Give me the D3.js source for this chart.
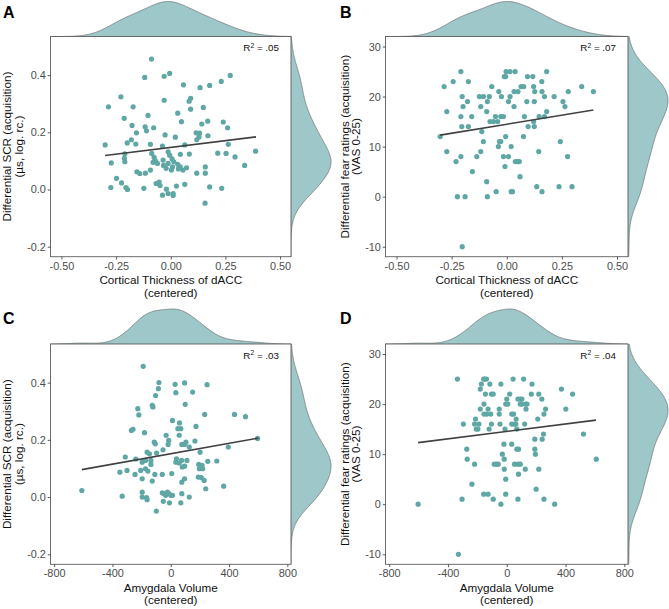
<!DOCTYPE html>
<html><head><meta charset="utf-8">
<script src="https://cdn.jsdelivr.net/npm/d3@7"></script>
<style>body{margin:0;background:#fff;}svg{display:block;font-family:"Liberation Sans",Arial,sans-serif;}</style>
</head><body>
<svg id="chart" width="669" height="609"></svg>
<script>
// ---------------- DATA ----------------
const panelLetters = ["A", "B", "C", "D"];
const xTitles = [["Cortical Thickness of dACC", "(centered)"], ["Cortical Thickness of dACC", "(centered)"], ["Amygdala Volume", "(centered)"], ["Amygdala Volume", "(centered)"]];
const yTitles = [["Differential SCR (acquisition)", "(µs, log. rc.)"], ["Differential fear ratings (acquisition)", "(VAS 0-25)"], ["Differential SCR (acquisition)", "(µs, log. rc.)"], ["Differential fear ratings (acquisition)", "(VAS 0-25)"]];
const rSquared = [".05", ".07", ".03", ".04"];

const thickTicks = [-0.5, -0.25, 0, 0.25, 0.5];
const thickTickLabels = ["-0.50", "-0.25", "0.00", "0.25", "0.50"];
const volTicks = [-800, -400, 0, 400, 800];
const volTickLabels = ["-800", "-400", "0", "400", "800"];
const scrTicks = [-0.2, 0, 0.2, 0.4];
const scrTickLabels = ["-0.2", "0.0", "0.2", "0.4"];
const fearTicks = [-10, 0, 10, 20, 30];
const fearTickLabels = ["-10", "0", "10", "20", "30"];

const thickDomain = [-0.55, 0.55];
const volDomain = [-825, 825];
const scrDomain = [-0.235, 0.535];
const fearDomain = [-12, 32];

// Panel A: cortical thickness vs SCR
const aX = [-0.088,-0.119,-0.030,-0.005,0.272,0.231,0.058,0.178,0.134,-0.228,-0.030,0.091,0.084,-0.285,-0.172,0.149,0.091,0.032,-0.104,-0.213,0.049,0.169,0.240,-0.177,-0.117,-0.078,0.260,0.142,-0.157,-0.111,-0.026,0.116,0.132,0.170,0.021,-0.180,-0.199,-0.160,-0.300,-0.093,0.263,0.388,-0.038,0.064,0.119,0.129,-0.210,-0.212,-0.210,-0.272,-0.087,-0.076,-0.070,-0.081,-0.061,-0.035,-0.012,-0.005,0.006,-0.012,-0.033,0.014,0.044,0.085,0.215,0.253,0.294,0.032,0.043,0.056,0.035,0.072,0.158,0.338,-0.021,0.003,0.008,-0.155,-0.142,-0.116,-0.093,0.119,0.158,-0.248,-0.225,-0.274,-0.205,-0.198,-0.123,-0.067,-0.053,-0.049,-0.038,-0.020,-0.012,0.011,0.011,0.026,0.064,0.178,0.233,0.157];
const aY = [0.456,0.392,0.396,0.406,0.399,0.378,0.366,0.364,0.356,0.324,0.312,0.319,0.309,0.289,0.289,0.287,0.281,0.267,0.259,0.249,0.237,0.239,0.236,0.224,0.219,0.216,0.216,0.229,0.198,0.205,0.191,0.198,0.197,0.188,0.183,0.174,0.163,0.159,0.156,0.158,0.158,0.134,0.152,0.156,0.174,0.184,0.125,0.109,0.097,0.093,0.126,0.112,0.100,0.095,0.091,0.103,0.132,0.120,0.107,0.091,0.084,0.097,0.123,0.124,0.127,0.126,0.114,0.088,0.079,0.068,0.072,0.076,0.079,0.084,0.074,0.068,0.079,0.062,0.056,0.057,0.068,0.057,0.057,0.039,0.023,0.007,0.007,0.000,0.004,0.021,0.026,0.014,-0.020,0.001,-0.014,-0.014,-0.021,0.012,0.018,0.009,0.004,-0.048];
const aFitX = [-0.30, 0.39];
const aFitY = [0.119, 0.184];

// Panel B: cortical thickness vs fear ratings
const bX = [-0.208,-0.243,-0.174,-0.284,-0.272,-0.202,-0.178,-0.198,-0.208,-0.174,-0.204,-0.159,-0.230,-0.208,-0.272,-0.224,-0.189,-0.202,-0.302,-0.156,-0.136,-0.118,-0.106,-0.113,-0.124,-0.106,-0.118,-0.079,-0.088,-0.091,-0.068,-0.076,-0.060,-0.041,-0.051,-0.027,-0.015,-0.091,-0.088,-0.048,-0.038,-0.033,-0.027,-0.036,-0.024,-0.011,-0.005,-0.003,0.015,0.038,0.008,0.015,0.033,-0.005,0.020,-0.015,-0.008,0.008,0.033,0.020,0.026,0.039,0.050,0.057,0.051,0.065,0.077,0.076,0.060,0.080,0.091,0.097,0.094,0.118,0.122,0.127,0.122,0.125,0.125,0.136,0.145,0.147,0.159,0.160,0.171,0.160,0.171,0.181,0.181,0.215,0.237,0.243,0.255,0.264,0.276,0.279,0.296,0.340,0.393];
const bY = [25,23,23,22,17,20,19,18,16,14,14,16,7,8,9,0,0,-10,12,5,8,9,11,13,20,20,18,20,19,17,22,15,15,15,16,16,16,3,0,1,10,11,11,21,20,24,24,25,25,25,19,20,21,12,10,8,6,8,18,1,1,7,7,7,21,22,22,12,4,16,19,14,24,24,22,21,15,14,19,2,9,16,23,21,20,1,16,17,25,20,2,11,19,18,8,21,2,22,21];
const bFitX = [-0.302, 0.393];
const bFitY = [12.3, 17.3];

// Panel C: amygdala volume vs SCR
const cX = [-189,-81,-85,-104,-127,-122,30,95,35,150,249,99,-226,-219,-270,-259,-180,12,60,49,69,58,-32,173,233,437,513,596,395,-14,-113,-106,-18,76,95,104,127,166,201,-312,-162,-146,-53,-97,-196,-173,-136,-136,-240,-300,-349,-245,-206,-173,-157,-109,-58,7,-127,-196,39,35,58,74,111,79,95,192,215,254,316,95,76,196,219,189,210,229,363,240,-196,-196,-166,-162,-333,-610,-99,-58,-46,-35,-23,-12,0,12,-51,-9,69,76,127];
const cY = [0.457,0.400,0.379,0.355,0.321,0.315,0.394,0.399,0.365,0.367,0.393,0.324,0.309,0.287,0.233,0.237,0.225,0.268,0.259,0.239,0.239,0.216,0.216,0.247,0.289,0.289,0.281,0.205,0.175,0.198,0.192,0.186,0.184,0.184,0.184,0.192,0.175,0.196,0.157,0.140,0.157,0.151,0.165,0.154,0.122,0.128,0.128,0.114,0.133,0.093,0.087,0.079,0.093,0.099,0.091,0.079,0.079,0.082,0.056,0.064,0.134,0.122,0.119,0.128,0.128,0.105,0.108,0.114,0.111,0.125,0.126,0.064,0.052,0.099,0.099,0.070,0.068,0.058,0.038,0.029,0.017,0.000,-0.002,-0.009,0.003,0.023,-0.049,0.015,0.012,0.006,0.017,0.012,0.006,0.006,-0.015,-0.020,-0.020,0.012,0.000];
const cFitX = [-610, 601];
const cFitY = [0.096, 0.206];

// Panel D: amygdala volume vs fear ratings
const dX = [-336,-329,-603,-304,-295,-272,-269,-237,-219,-219,-212,-207,-189,-196,-180,-173,-180,-157,-150,-138,-155,-145,-155,-157,-127,-136,-127,-115,-104,-92,-109,-120,-104,-92,-69,-58,-85,-51,-51,-46,-40,-40,-30,-19,-17,-17,-12,-7,-7,0,-7,7,20,34,46,34,50,62,43,34,53,80,76,92,69,80,64,69,76,92,103,92,103,115,122,126,138,131,126,76,172,167,191,191,195,200,211,218,218,239,241,250,253,264,253,326,372,402,448,522,609];
const dY = [25,-10,0,1,16,11,9,4,8,16,17,15,16,15,19,24,23,25,25,25,20,22,18,2,2,18,19,24,22,22,18,15,16,1,8,8,8,19,18,16,0,24,10,12,9,7,15,5,2,21,20,20,22,18,18,16,16,16,25,12,8,6,8,8,11,11,17,15,21,21,21,20,20,25,16,20,20,19,7,1,24,22,13,11,10,3,17,22,7,21,13,14,18,19,1,0,23,19,22,14,9];
const dFitX = [-603, 607];
const dFitY = [12.3, 16.8];

// ---------------- LAYOUT / STYLE ----------------
const W = 669, H = 609;
const FONT = "'Liberation Sans', Arial, sans-serif";
const pointColor = "#5ea7a4";
const densFill = "#9dc7c8";
const densStroke = "#6e6e6e";
const lineColor = "#404040";
const tickColor = "#4d4d4d";
const bwAdjust = 1.3;

const layout = [
  {x0: 50.5, x1: 291, y0: 36.5, y1: 256.7, letterX: 3, letterY: 18.3, yTitleX: 11},
  {x0: 385.5, x1: 628, y0: 36.5, y1: 256.7, letterX: 340, letterY: 17.5, yTitleX: 348.5},
  {x0: 50.5, x1: 291, y0: 344, y1: 564.3, letterX: 3, letterY: 324, yTitleX: 11},
  {x0: 385.5, x1: 628, y0: 344, y1: 564.3, letterX: 340, letterY: 324, yTitleX: 348.5}
];

const panelsData = [
  {xs: aX, ys: aY, fx: aFitX, fy: aFitY, xd: thickDomain, yd: scrDomain, xt: thickTicks, xtl: thickTickLabels, yt: scrTicks, ytl: scrTickLabels},
  {xs: bX, ys: bY, fx: bFitX, fy: bFitY, xd: thickDomain, yd: fearDomain, xt: thickTicks, xtl: thickTickLabels, yt: fearTicks, ytl: fearTickLabels},
  {xs: cX, ys: cY, fx: cFitX, fy: cFitY, xd: volDomain, yd: scrDomain, xt: volTicks, xtl: volTickLabels, yt: scrTicks, ytl: scrTickLabels},
  {xs: dX, ys: dY, fx: dFitX, fy: dFitY, xd: volDomain, yd: fearDomain, xt: volTicks, xtl: volTickLabels, yt: fearTicks, ytl: fearTickLabels}
];

// Gaussian KDE with R's nrd0 bandwidth (as ggplot's stat_density), with adjust
function bwNrd0(v) {
  const s = v.slice().sort(d3.ascending);
  const sd = d3.deviation(s);
  const iqr = d3.quantile(s, 0.75) - d3.quantile(s, 0.25);
  const lo = Math.min(sd, iqr / 1.34);
  return 0.9 * lo * Math.pow(v.length, -0.2);
}
function kde(v, domain, n) {
  const bw = bwNrd0(v) * bwAdjust;
  const grid = d3.range(n).map(i => domain[0] + (domain[1] - domain[0]) * i / (n - 1));
  return grid.map(g => {
    const s = d3.sum(v, x => Math.exp(-0.5 * ((g - x) / bw) ** 2));
    return [g, s / (v.length * bw * Math.sqrt(2 * Math.PI))];
  });
}

const svg = d3.select("#chart");
svg.append("rect").attr("width", W).attr("height", H).attr("fill", "#fff");

const TOP_H = 35, RIGHT_W = 40;

panelsData.forEach((p, i) => {
  const L = layout[i];
  const g = svg.append("g");
  const x = d3.scaleLinear().domain(p.xd).range([L.x0, L.x1]);
  const y = d3.scaleLinear().domain(p.yd).range([L.y1, L.y0]);

  // top marginal density
  const dx = kde(p.xs, p.xd, 256);
  const hx = d3.scaleLinear().domain([0, d3.max(dx, d => d[1])]).range([L.y0, L.y0 - TOP_H]);
  g.append("path")
    .attr("d", d3.area().x(d => x(d[0])).y0(L.y0).y1(d => hx(d[1])).curve(d3.curveBasis)(dx))
    .attr("fill", densFill);
  g.append("path")
    .attr("d", d3.line().x(d => x(d[0])).y(d => hx(d[1])).curve(d3.curveBasis)(dx))
    .attr("fill", "none").attr("stroke", densStroke).attr("stroke-width", 0.7);

  // right marginal density
  const dy = kde(p.ys, p.yd, 256);
  const wy = d3.scaleLinear().domain([0, d3.max(dy, d => d[1])]).range([L.x1, L.x1 + RIGHT_W]);
  g.append("path")
    .attr("d", d3.area().y(d => y(d[0])).x0(L.x1).x1(d => wy(d[1])).curve(d3.curveBasis)(dy))
    .attr("fill", densFill);
  g.append("path")
    .attr("d", d3.line().y(d => y(d[0])).x(d => wy(d[1])).curve(d3.curveBasis)(dy))
    .attr("fill", "none").attr("stroke", densStroke).attr("stroke-width", 0.7);

  // panel background
  g.append("rect").attr("x", L.x0).attr("y", L.y0).attr("width", L.x1 - L.x0).attr("height", L.y1 - L.y0).attr("fill", "#fff");

  // points
  g.append("g").selectAll("circle").data(p.xs.map((v, k) => [v, p.ys[k]])).join("circle")
    .attr("cx", d => x(d[0])).attr("cy", d => y(d[1])).attr("r", 2.6).attr("fill", pointColor);

  // regression line
  g.append("path")
    .attr("d", d3.line().x(d => x(d[0])).y(d => y(d[1]))(p.fx.map((v, k) => [v, p.fy[k]])))
    .attr("stroke", lineColor).attr("stroke-width", 1.6).attr("fill", "none");

  // border
  g.append("rect").attr("x", L.x0).attr("y", L.y0).attr("width", L.x1 - L.x0).attr("height", L.y1 - L.y0)
    .attr("fill", "none").attr("stroke", "#5c5c5c").attr("stroke-width", 0.9);

  // axes
  const xAxis = d3.axisBottom(x).tickValues(p.xt).tickFormat((d, k) => p.xtl[k]).tickSize(2.8).tickPadding(2.5);
  const gx = g.append("g").attr("transform", `translate(0,${L.y1})`).call(xAxis);
  const yAxis = d3.axisLeft(y).tickValues(p.yt).tickFormat((d, k) => p.ytl[k]).tickSize(2.8).tickPadding(1.8);
  const gy = g.append("g").attr("transform", `translate(${L.x0},0)`).call(yAxis);
  [gx, gy].forEach(a => {
    a.select(".domain").remove();
    a.selectAll(".tick line").attr("stroke", "#333").attr("stroke-width", 0.8);
    a.selectAll(".tick text").attr("fill", tickColor).style("font-size", "10.9px").style("font-family", FONT);
  });

  // x title
  const xt = g.append("text").attr("text-anchor", "middle").style("font-size", "11.7px").style("font-family", FONT).attr("fill", "#111");
  xTitles[i].forEach((t, k) => {
    xt.append("tspan").attr("x", (L.x0 + L.x1) / 2).attr("y", L.y1 + 27.5 + k * 12.3).text(t);
  });

  // y title
  const cy = (L.y0 + L.y1) / 2;
  const yt = g.append("text").attr("text-anchor", "middle").attr("transform", `translate(${L.yTitleX},${cy}) rotate(-90)`)
    .style("font-size", "11.7px").style("font-family", FONT).attr("fill", "#111");
  yTitles[i].forEach((t, k) => {
    yt.append("tspan").attr("x", 0).attr("y", k * 11.8).text(t);
  });

  // R² label
  const rt = g.append("text").attr("text-anchor", "end").attr("x", L.x1 - 12).attr("y", L.y0 + 14.5)
    .style("font-size", "9.8px").style("font-family", FONT).attr("fill", "#111");
  rt.append("tspan").text("R");
  rt.append("tspan").attr("dy", -3.5).style("font-size", "6.8px").text("2");
  rt.append("tspan").attr("dy", 3.5).text(" = " + rSquared[i]);

  // panel letter
  g.append("text").attr("x", L.letterX).attr("y", L.letterY).text(panelLetters[i])
    .style("font-size", "16px").style("font-weight", "bold").style("font-family", FONT).attr("fill", "#000");
});
</script>
</body></html>
